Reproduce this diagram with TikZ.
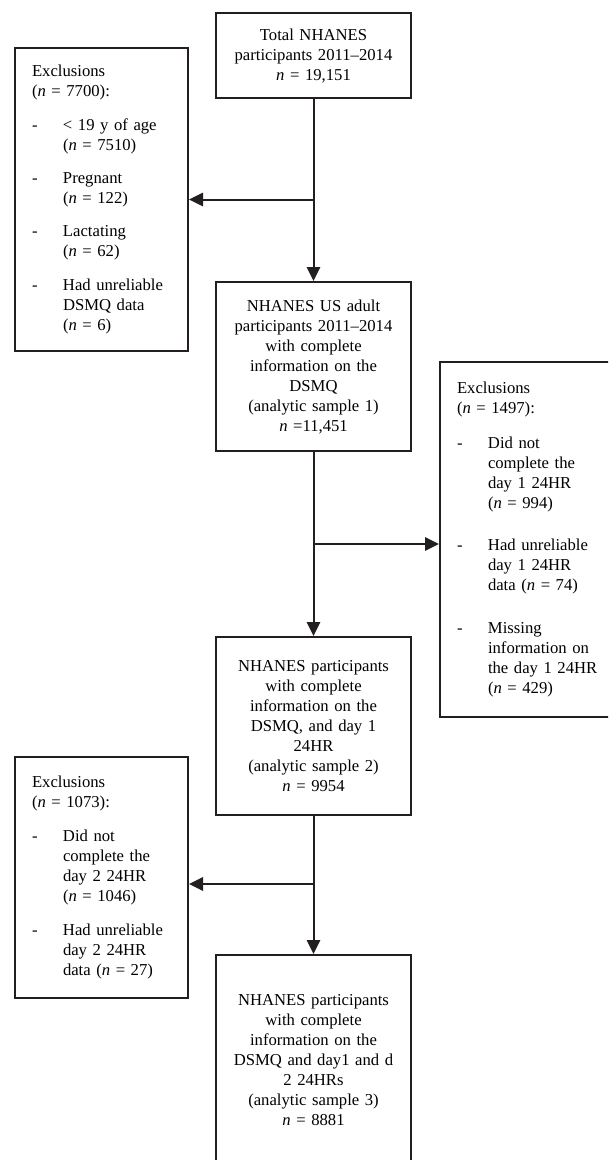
\documentclass[tikz,border=0pt]{standalone}
\usepackage{fontspec}
\setmainfont{Liberation Serif}
\usetikzlibrary{arrows.meta}
\definecolor{boxline}{HTML}{231F20}
\newcommand{\dsh}{\makebox[23.25pt][l]{-}}
\newcommand{\ind}{\hspace*{23.25pt}}
\tikzset{
  mainbox/.style={draw=boxline, line width=1.5pt, align=center, text width=140pt,
    inner xsep=3.1pt, inner ysep=0pt, minimum height=#1},
  sidebox/.style={draw=boxline, line width=1.5pt, align=left, text width=104.25pt,
    inner xsep=12.75pt, inner ysep=0pt, minimum height=#1},
  link/.style={draw=boxline, line width=1.5pt}
}

\begin{document}
\begin{tikzpicture}[x=0.75pt,y=-0.75pt,>={Triangle[length=10.5pt,width=10pt]},
    font=\fontsize{12.5}{15}\selectfont]
        \useasboundingbox (0,0) rectangle (608,1160);
        \clip (0,0) rectangle (608,1160);
        \fill[white] (0,0) rectangle (608,1160);

        \node[mainbox=63.75pt] (total) at (313.5,55.5)
          {Total NHANES\\participants 2011--2014\\\textit{n} = 19,151};
        \node[mainbox=126.75pt] (sample1) at (313.5,366.5)
          {NHANES US adult\\participants 2011--2014\\with complete\\information on the\\DSMQ\\(analytic sample 1)\\\textit{n} =11,451};
        \node[mainbox=133.5pt] (sample2) at (313.5,726)
          {NHANES participants\\with complete\\information on the\\DSMQ, and day 1\\24HR\\(analytic sample 2)\\\textit{n} = 9954};
        \node[mainbox=158.25pt] (sample3) at (313.5,1060.5)
          {NHANES participants\\with complete\\information on the\\DSMQ and day1 and d\\2 24HRs\\(analytic sample 3)\\\textit{n} = 8881};

        \node[sidebox=227.25pt] (excl1) at (101.5,199.5)
          {Exclusions\\(\textit{n} = 7700):\\[10pt]
           \dsh{}< 19 y of age\\\ind(\textit{n} = 7510)\\[10pt]
           \dsh{}Pregnant\\\ind(\textit{n} = 122)\\[10pt]
           \dsh{}Lactating\\\ind(\textit{n} = 62)\\[10pt]
           \dsh{}Had unreliable\\\ind DSMQ data\\\ind(\textit{n} = 6)};
        \node[sidebox=266.25pt, text width=120pt, anchor=west] (excl2) at (439,539.5)
          {Exclusions\\(\textit{n} = 1497):\\[11pt]
           \dsh{}Did not\\\ind complete the\\\ind day 1 24HR\\\ind(\textit{n} = 994)\\[17pt]
           \dsh{}Had unreliable\\\ind day 1 24HR\\\ind data (\textit{n} = 74)\\[17pt]
           \dsh{}Missing\\\ind information on\\\ind the day 1 24HR\\\ind(\textit{n} = 429)};
        \node[sidebox=180.75pt] (excl3) at (101.5,877.5)
          {Exclusions\\(\textit{n} = 1073):\\[10.5pt]
           \dsh{}Did not\\\ind complete the\\\ind day 2 24HR\\\ind(\textit{n} = 1046)\\[11pt]
           \dsh{}Had unreliable\\\ind day 2 24HR\\\ind data (\textit{n} = 27)};

        \coordinate (split2) at (313.5,544);
        \coordinate (split3) at (313.5,884);

        \draw[link,->] (total) -- (sample1);
        \draw[link,->] (total.south |- excl1.east) -- (excl1.east);
        \draw[link,->] (sample1) -- (sample2);
        \draw[link,->] (split2) -- (split2 -| excl2.west);
        \draw[link,->] (sample2) -- (sample3);
        \draw[link,->] (split3) -- (split3 -| excl3.east);
      \end{tikzpicture}
\end{document}
